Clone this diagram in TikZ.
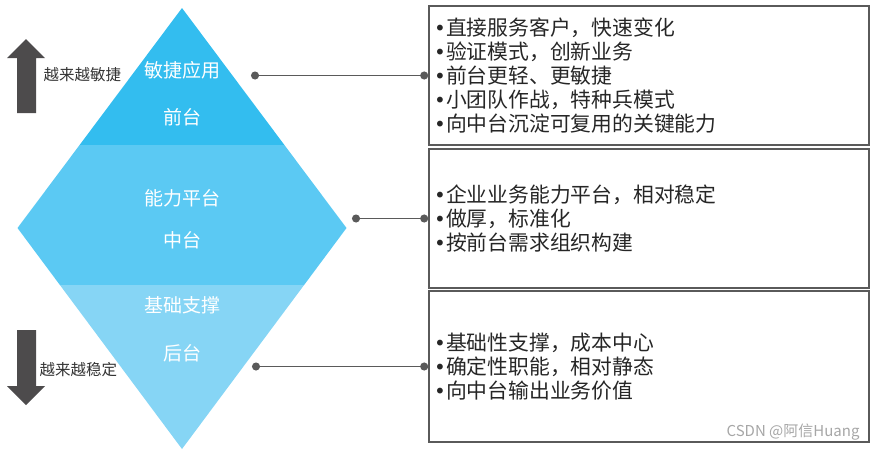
\documentclass[tikz,border=0pt]{standalone}
\usepackage{fontspec}
\setmainfont{Noto Sans CJK SC}
\newfontfamily\dotfont{DejaVu Sans}
\usetikzlibrary{arrows.meta}

\definecolor{frontblue}{HTML}{33BDEF}
\definecolor{midblue}{HTML}{5BC9F3}
\definecolor{backblue}{HTML}{86D5F5}
\definecolor{boxgray}{HTML}{5A5A5A}
\definecolor{arrowgray}{HTML}{4D4B4C}
\newcommand\itemdot{\makebox[12pt][l]{\dotfont\fontsize{20}{20}\selectfont •}}

\begin{document}
\begin{tikzpicture}[x=1pt,y=-1pt, infobox/.style={draw=boxgray,line width=1.6pt,align=left,text width=430pt,inner xsep=5pt,minimum width=440pt,font=\fontsize{20.8}{24}\selectfont,text=black!85}, layer/.style={text=white,font=\fontsize{19}{19}\selectfont}, link/.style={{Circle[length=8pt]}-{Circle[length=8pt]},line width=1.4pt,draw=boxgray}, side/.style={anchor=west,font=\fontsize{15.5}{16}\selectfont,text=black!80}, bigarrow/.style={fill=arrowgray}]
\useasboundingbox (0,0) rectangle (877,450);
\fill[frontblue] (182,8) -- (284.4,145) -- (79.6,145) -- cycle;
\fill[midblue] (79.6,145) -- (284.4,145) -- (346.5,228) -- (304.1,285) -- (59.9,285) -- (17.5,228) -- cycle;
\fill[backblue] (59.9,285) -- (304.1,285) -- (182,449) -- cycle;
\node[layer] (agile) at (182,70) {敏捷应用};
\node[layer] (front) at (182,117) {前台};
\node[layer] (ability) at (182,198) {能力平台};
\node[layer] (middle) at (182,240) {中台};
\node[layer] (base) at (182,305) {基础支撑};
\node[layer] (back) at (182,353) {后台};
\fill[bigarrow] (17,113) -- (17,58) -- (7,58) -- (26,39) -- (45,58) -- (36,58) -- (36,113) -- cycle;
\fill[bigarrow] (17,330) -- (17,386) -- (7,386) -- (26,405) -- (45,386) -- (36,386) -- (36,330) -- cycle;
\node[side] (faster) at (40,75) {越来越敏捷};
\node[side] (steadier) at (36,370) {越来越稳定};
\node[infobox, minimum height=139pt] (frontbox) at (649,75.5) {\itemdot 直接服务客户，快速变化\\\itemdot 验证模式，创新业务\\\itemdot 前台更轻、更敏捷\\\itemdot 小团队作战，特种兵模式\\\itemdot 向中台沉淀可复用的关键能力};
\node[infobox, minimum height=139pt] (midbox) at (649,218.5) {\itemdot 企业业务能力平台，相对稳定\\\itemdot 做厚，标准化\\\itemdot 按前台需求组织构建};
\node[infobox, minimum height=151pt] (backbox) at (649,366.5) {\itemdot 基础性支撑，成本中心\\\itemdot 确定性职能，相对静态\\\itemdot 向中台输出业务价值};
\coordinate (frontdot) at (251,75.5);
\coordinate (middot) at (352,218.5);
\coordinate (backdot) at (252,366.5);
\draw[link] (frontdot) -- (frontbox.west);
\draw[link] (middot) -- (midbox.west);
\draw[link] (backdot) -- (backbox.west);
\node[anchor=east, text=gray!70, font=\fontsize{15}{15}\selectfont] (mark) at (863,432) {CSDN @阿信Huang};
\end{tikzpicture}
\end{document}
